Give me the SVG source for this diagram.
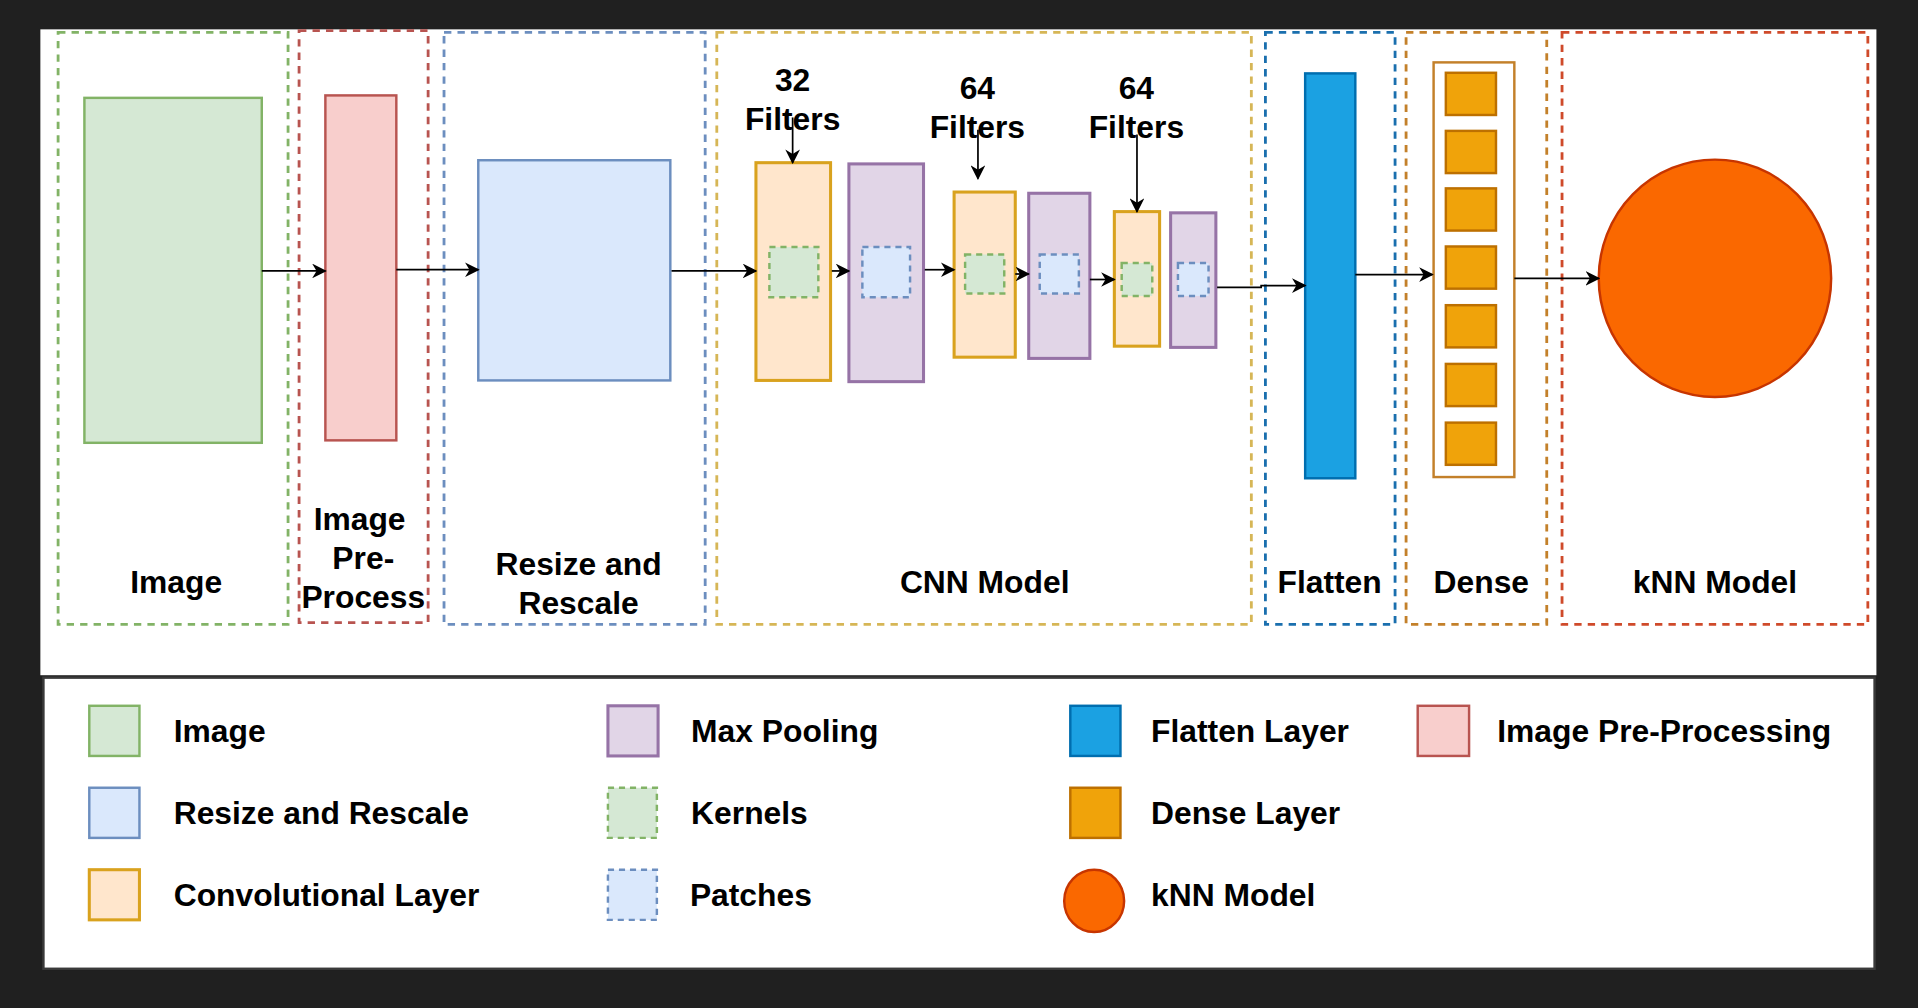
<svg xmlns="http://www.w3.org/2000/svg" width="1918" height="1008" viewBox="0 0 1918 1008">
<defs>
<marker id="ah" viewBox="0 0 10 10" refX="9" refY="5" markerWidth="12" markerHeight="12" markerUnits="userSpaceOnUse" orient="auto">
<path d="M0,0 L10,5 L0,10 L3,5 z" fill="#000"/>
</marker>
<style>
text{font-family:"Liberation Sans",Arial,sans-serif;font-weight:bold;font-size:26px;fill:#000}
.c{text-anchor:middle}
.grp{fill:none;stroke-width:2.3;stroke-dasharray:6 5}
.img{fill:#d5e8d4;stroke:#82b366;stroke-width:2}
.pre{fill:#f8cecc;stroke:#b85450;stroke-width:2}
.rsz{fill:#dae8fc;stroke:#6c8ebf;stroke-width:2}
.conv{fill:#ffe6cc;stroke:#d9a21e;stroke-width:2.5}
.pool{fill:#e1d5e7;stroke:#9673a6;stroke-width:2.5}
.ker{fill:#d5e8d4;stroke:#82b366;stroke-width:2;stroke-dasharray:5 4}
.pat{fill:#dae8fc;stroke:#6c8ebf;stroke-width:2;stroke-dasharray:5 4}
.flat{fill:#1ba1e2;stroke:#006eaf;stroke-width:2}
.dense{fill:#f0a30a;stroke:#bd7000;stroke-width:2}
.knn{fill:#fa6800;stroke:#c73500;stroke-width:2}
.ln{fill:none;stroke:#000;stroke-width:1.4;marker-end:url(#ah)}
</style>
</defs>
<rect x="0" y="0" width="1918" height="1008" fill="#202020"/>
<g transform="scale(1.22321)">
<rect x="33" y="24" width="1501" height="528" fill="#fff"/>

<g id="image-group">
<rect class="grp" x="47.5" y="26.5" width="188" height="484" stroke="#82b366"/>
<rect class="img" x="69" y="80" width="145" height="282"/>
<text class="c" x="144" y="485">Image</text>
</g>
<g id="preprocess-group">
<rect class="grp" x="244.5" y="25" width="105.5" height="484" stroke="#b85450"/>
<rect class="pre" x="266" y="78" width="58" height="282"/>
<text class="c" x="294" y="433">Image</text>
<text class="c" x="297" y="465">Pre-</text>
<text class="c" x="297" y="497">Process</text>
</g>
<g id="resize-group">
<rect class="grp" x="363" y="26.5" width="213.5" height="484" stroke="#6c8ebf"/>
<rect class="rsz" x="391" y="131" width="157" height="180"/>
<text class="c" x="473" y="470">Resize and</text>
<text class="c" x="473" y="502">Rescale</text>
</g>
<g id="cnn-group">
<rect class="grp" x="586" y="26.5" width="437" height="484" stroke="#d6b656"/>
<text class="c" x="805" y="485">CNN Model</text>
<text class="c" x="648" y="74">32</text>
<text class="c" x="648" y="106">Filters</text>
<text class="c" x="799" y="81">64</text>
<text class="c" x="799" y="113">Filters</text>
<text class="c" x="929" y="81">64</text>
<text class="c" x="929" y="113">Filters</text>
</g>
<g id="conv1"><rect class="conv" x="618" y="133" width="61" height="178"/><rect class="ker" x="629" y="202" width="40" height="41"/></g>
<g id="pool1"><rect class="pool" x="694" y="134" width="61" height="178"/><rect class="pat" x="705" y="202" width="39" height="41"/></g>
<g id="conv2"><rect class="conv" x="780" y="157" width="50" height="135"/><rect class="ker" x="789" y="208" width="32" height="32"/></g>
<g id="pool2"><rect class="pool" x="841" y="158" width="50" height="135"/><rect class="pat" x="850" y="208" width="32" height="32"/></g>
<g id="conv3"><rect class="conv" x="911" y="173" width="37" height="110"/><rect class="ker" x="917" y="215" width="25" height="27"/></g>
<g id="pool3"><rect class="pool" x="957" y="174" width="37" height="110"/><rect class="pat" x="963" y="215" width="25" height="27"/></g>

<g id="flatten-group">
<rect class="grp" x="1034.5" y="26.5" width="106" height="484" stroke="#1a6fae"/>
<rect class="flat" x="1067" y="60" width="41" height="331"/>
<text class="c" x="1087" y="485">Flatten</text>
</g>
<g id="dense-group">
<rect class="grp" x="1149.5" y="26.5" width="115" height="484" stroke="#c3802a"/>
<rect x="1172" y="51" width="66" height="339" fill="none" stroke="#c3802a" stroke-width="2"/>
<rect class="dense" x="1182" y="59.5" width="41" height="34.5"/>
<rect class="dense" x="1182" y="107" width="41" height="34.5"/>
<rect class="dense" x="1182" y="154" width="41" height="34.5"/>
<rect class="dense" x="1182" y="201.5" width="41" height="34.5"/>
<rect class="dense" x="1182" y="249.5" width="41" height="34.5"/>
<rect class="dense" x="1182" y="297.5" width="41" height="34.5"/>
<rect class="dense" x="1182" y="345.5" width="41" height="34.5"/>
<text class="c" x="1211" y="485">Dense</text>
</g>
<g id="knn-group">
<rect class="grp" x="1277" y="26.5" width="250" height="484" stroke="#cf4a2a"/>
<ellipse class="knn" cx="1402" cy="227.5" rx="95" ry="97"/>
<text class="c" x="1402" y="485">kNN Model</text>
</g>

<g id="connectors">
<path class="ln" d="M214,221.5 H266"/>
<path class="ln" d="M324,220.5 H391"/>
<path class="ln" d="M549,221.5 H618"/>
<path class="ln" d="M680,221.5 H694"/>
<path class="ln" d="M756,220.5 H780"/>
<path class="ln" d="M830,224 H841"/>
<path class="ln" d="M891,228.5 H911"/>
<path class="ln" d="M995,235 H1031 V233.5 H1067"/>
<path class="ln" d="M1108,224.5 H1171"/>
<path class="ln" d="M1238,227.5 H1307"/>
<path class="ln" d="M648,96 V133"/>
<path class="ln" d="M799.5,106 V146"/>
<path class="ln" d="M929.5,110 V173"/>
</g>

<g id="legend">
<rect x="35.5" y="554" width="1497" height="238" fill="#fff" stroke="#3a3a3a" stroke-width="2"/>
<rect class="img" x="73" y="577" width="41" height="41"/>
<text x="142" y="607">Image</text>
<rect class="rsz" x="73" y="644" width="41" height="41"/>
<text x="142" y="674">Resize and Rescale</text>
<rect class="conv" x="73" y="711" width="41" height="41" stroke-width="2"/>
<text x="142" y="741">Convolutional Layer</text>
<rect class="pool" x="497" y="577" width="41" height="41" stroke-width="2"/>
<text x="565" y="607">Max Pooling</text>
<rect class="ker" x="497" y="644" width="40" height="41"/>
<text x="565" y="674">Kernels</text>
<rect class="pat" x="497" y="711" width="40" height="41"/>
<text x="564" y="741">Patches</text>
<rect class="flat" x="875" y="577" width="41" height="41"/>
<text x="941" y="607">Flatten Layer</text>
<rect class="dense" x="875" y="644" width="41" height="41"/>
<text x="941" y="674">Dense Layer</text>
<ellipse class="knn" cx="894.5" cy="736.5" rx="24.5" ry="25.5"/>
<text x="941" y="741">kNN Model</text>
<rect class="pre" x="1159" y="577" width="42" height="41"/>
<text x="1224" y="607">Image Pre-Processing</text>
</g>
</g>
</svg>
